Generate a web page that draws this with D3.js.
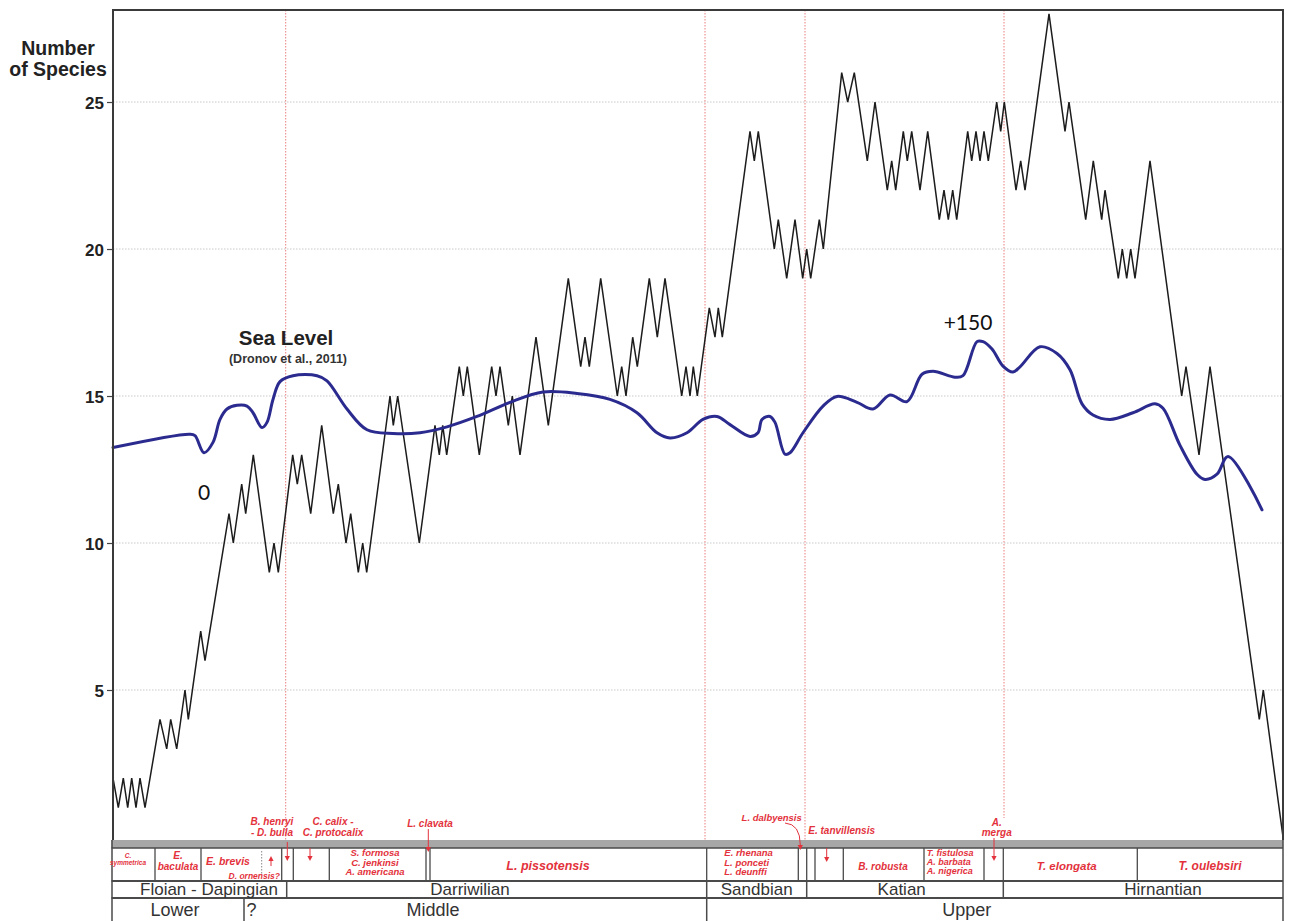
<!DOCTYPE html>
<html>
<head>
<meta charset="utf-8">
<script src="https://cdn.jsdelivr.net/npm/d3@7"></script>
<style>
  body { margin: 0; background: #fff; }
  svg { display: block; }
</style>
</head>
<body>
<svg id="chart" width="1290" height="921"></svg>
<script>
// ---- Species richness through the Ordovician (position along section, arbitrary units) ----
const speciesPos = [0,5.3,10.3,14.7,18.7,23,27,32,47,53.7,
  57.7,63.7,72,75.3,87.7,92,116,120.3,128.7,132.7,
  140.3,156.3,161,165.3,179.7,184.3,188.7,197.7,208.7,220.3,
  225.3,233,237.7,245.3,249.7,253.7,277,280.3,284.7,306.3,
  322,326.3,329.7,333.7,346.3,350.3,354.3,366.3,378.7,383,
  387,395.3,399.3,407,423,435.3,455.3,467.7,472,476.3,
  487.7,504.3,508.7,513,519.7,524.3,536.3,544.3,552,568.7,
  573,577,580.3,584.3,596.3,602,605.3,609.3,637,641.3,
  645.3,661.3,665.3,673.7,682,689.7,693.7,697.7,706.3,710.3,
  728.7,734.7,741.3,754.3,762,774.3,778.7,782.7,790.3,794.3,
  798.7,807,814.7,826.3,831,835.3,839.7,843.7,854.7,858.7,
  863,867,871,875.3,883.7,887.7,891.3,903,907.7,912,
  936,952,956,972.7,980.3,988.7,992,1005.3,1009.3,1013.7,
  1017.7,1022,1037,1068.7,1073,1086,1097,1146.3,1150.3,1170];
const speciesCount = [2,1,2,1,2,1,2,1,4,3,
  4,3,5,4,7,6,11,10,12,11,
  13,9,10,9,13,12,13,11,14,11,
  12,10,11,9,10,9,15,14,15,10,
  14,13,14,13,16,15,16,13,16,15,
  16,14,15,13,17,14,19,16,17,16,
  19,15,16,15,17,16,19,17,19,15,
  16,15,16,15,18,17,18,17,24,23,
  24,20,21,19,21,19,20,19,21,20,
  26,25,26,23,25,22,23,22,24,23,
  24,22,24,21,22,21,22,21,24,23,
  24,23,24,23,25,24,25,22,23,22,
  28,24,25,21,23,21,22,19,20,19,
  20,19,23,15,16,13,16,4,5,0];

// ---- Sea level curve (Dronov et al., 2011), metres relative to the early low ----
const seaPos = [0,77,82,91,100,107,114,124,134,140,
  149,154,160,167,180,204,214,234,254,280,
  307,334,364,397,430,464,497,524,544,557,
  574,590,604,617,637,645,649,657,662,672,
  677,690,710,724,744,760,777,794,809,820,
  842,850,864,870,879,890,900,907,927,944,
  957,969,980,997,1020,1042,1050,1067,1084,1092,
  1104,1115,1149];
const seaLevel = [7,25,23,0,14,45,59,64,63,54,
  34,41,72,96,104,104,97,59,31,26,
  27,35,49,68,82,80,72,54,27,20,
  27,45,49,38,22,27,45,49,41,-2,
  0,27,63,76,68,59,78,69,106,110,
  102,104,150,150,140,117,109,116,143,134,
  112,66,51,45,54,66,60,10,-29,-36,
  -29,-5,-77];
const seaMarks = [0, 150];
const seaMarkLabels = ["0", "+150"];
const seaMarkPos = [91, 855];

const yTicks = [5, 10, 15, 20, 25];

// ---- Chronostratigraphy ----
const seriesNames = ["Lower", "Middle", "Upper"];
const seriesLabelAt = [62, 320, 853.7];
const seriesBounds = [131, 593.7];
const stageNames = ["Floian - Dapingian", "Darriwilian", "Sandbian", "Katian", "Hirnantian"];
const stageLabelAt = [96, 357, 643.7, 788.7, 1050];
const stageBounds = [173.7, 593.7, 693.7, 890.3];
const eventLines = [172.7, 592, 692, 891];

// ---- Chitinozoan biozones ----
const zoneBounds = [42, 88, 168.7, 180.3, 216.3, 313, 317, 593.7, 685.3, 693.7, 702, 730.3, 811, 871, 890.3, 1024.3];
const zoneNames = ["C.\nsymmetrica", "E.\nbaculata", "E. brevis", "D. ornensis?",
  "S. formosa\nC. jenkinsi\nA. americana", "L. pissotensis",
  "E. rhenana\nL. ponceti\nL. deunffi", "B. robusta",
  "T. fistulosa\nA. barbata\nA. nigerica", "T. elongata", "T. oulebsiri"];
const zoneLabelAt = [15, 65, 115, 167, 262, 435, 611.3, 770, 813.7, 953.7, 1097];
const markerNames = ["B. henryi\n- D. bulla", "C. calix -\nC. protocalix", "L. clavata",
  "L. dalbyensis", "E. tanvillensis", "A.\nmerga"];
const markerLabelAt = [159, 220, 317, 658.7, 695.3, 883.7];

// ---------------------------------------------------------------
const W = 1290, H = 921;
const pLeft = 113, pRight = 1283, pTop = 10;
const bandTop = 840, bandBottom = 848, zoneBottom = 881, stageBottom = 898;
const RED = "#e3323c";
const FONT = "'Liberation Sans', Arial, Helvetica, sans-serif";

const svg = d3.select("#chart");
const x = d3.scaleLinear().domain([0, 1170]).range([pLeft, pRight]);
const y = d3.scaleLinear().domain([0, 28.13]).range([837, pTop]);
const ySea = d3.scaleLinear().domain([0, 150]).range([y(13.07), y(16.85)]);

svg.append("rect").attr("width", W).attr("height", H).attr("fill", "#fff");

// horizontal grid
svg.append("g")
  .selectAll("line").data(yTicks).join("line")
  .attr("x1", pLeft).attr("x2", pRight)
  .attr("y1", d => y(d)).attr("y2", d => y(d))
  .attr("stroke", "#c9c9c9").attr("stroke-width", 1)
  .attr("stroke-dasharray", "1.5,1.5");

// stage-boundary event lines
svg.append("g")
  .selectAll("line").data(eventLines).join("line")
  .attr("x1", d => x(d)).attr("x2", d => x(d))
  .attr("y1", pTop).attr("y2", (d, i) => i === 3 ? 818 : (i === 0 ? 846 : bandTop))
  .attr("stroke", "#ec7f7f").attr("stroke-width", 1)
  .attr("stroke-dasharray", "1.5,1.5");

// y axis
const yAxis = d3.axisLeft(y).tickValues(yTicks).tickSize(6).tickPadding(3);
const gy = svg.append("g").attr("transform", `translate(${pLeft},0)`).call(yAxis);
gy.select(".domain").remove();
gy.selectAll(".tick line").attr("stroke", "#444").attr("stroke-width", 1.2);
gy.selectAll(".tick text")
  .attr("font-family", FONT).attr("font-weight", "bold").attr("font-size", 17)
  .attr("fill", "#222").attr("dy", "0.36em");

// axis title
const title = svg.append("text").attr("font-family", FONT).attr("font-weight", "bold")
  .attr("font-size", 19.5).attr("fill", "#222").attr("text-anchor", "middle");
title.append("tspan").attr("x", 58).attr("y", 55).text("Number");
title.append("tspan").attr("x", 58).attr("y", 76).text("of Species");

// species line
const species = speciesPos.map((p, i) => ({ p, v: speciesCount[i] }));
svg.append("path")
  .datum(species)
  .attr("fill", "none").attr("stroke", "#1c1c1c").attr("stroke-width", 1.5)
  .attr("stroke-linejoin", "miter")
  .attr("d", d3.line().x(d => x(d.p)).y(d => y(d.v)));

// sea level curve
const sea = seaPos.map((p, i) => ({ p, v: seaLevel[i] }));
svg.append("path")
  .datum(sea)
  .attr("fill", "none").attr("stroke", "#2b2b8f").attr("stroke-width", 3)
  .attr("stroke-linejoin", "round").attr("stroke-linecap", "round")
  .attr("d", d3.line().curve(d3.curveCatmullRom.alpha(0.5)).x(d => x(d.p)).y(d => ySea(d.v)));

// sea level annotations
svg.append("text").attr("x", 286).attr("y", 345).attr("text-anchor", "middle")
  .attr("font-family", FONT).attr("font-weight", "bold").attr("font-size", 20.5).attr("fill", "#222")
  .text("Sea Level");
svg.append("text").attr("x", 288).attr("y", 363).attr("text-anchor", "middle")
  .attr("font-family", FONT).attr("font-weight", "bold").attr("font-size", 12.5).attr("fill", "#333")
  .text("(Dronov et al., 2011)");
svg.append("g").selectAll("text").data(seaMarks).join("text")
  .attr("x", (d, i) => x(seaMarkPos[i]))
  .attr("y", (d, i) => i === 0 ? ySea(d) + 47 : ySea(d) - 12)
  .attr("text-anchor", "middle")
  .attr("font-family", "Lato, 'Open Sans', sans-serif").attr("font-size", 21).attr("fill", "#111")
  .text((d, i) => seaMarkLabels[i]);

// plot frame
svg.append("path")
  .attr("d", `M${pLeft},${bandTop}V${pTop}H${pRight}V${bandTop}`)
  .attr("fill", "none").attr("stroke", "#3a3a3a").attr("stroke-width", 2);

// ---- stratigraphic table ----
const tbl = svg.append("g");
tbl.append("rect").attr("x", pLeft - 1.5).attr("y", bandTop).attr("width", pRight - pLeft + 1.5)
  .attr("height", bandBottom - bandTop).attr("fill", "#a7a7a7");
const tline = (x1, y1, x2, y2, w = 1.5) => tbl.append("line")
  .attr("x1", x1).attr("y1", y1).attr("x2", x2).attr("y2", y2)
  .attr("stroke", "#4a4a4a").attr("stroke-width", w);
tline(pLeft - 1.5, bandBottom, pRight, bandBottom);
tline(pLeft - 1.5, zoneBottom, pRight, zoneBottom, 2);
tline(pLeft - 1.5, stageBottom, pRight, stageBottom, 2);
tline(pLeft - 1, bandTop, pLeft - 1, H);
tline(pRight, bandTop, pRight, H);
zoneBounds.forEach(b => tline(x(b), bandBottom, x(b), zoneBottom, 1.3));
stageBounds.forEach(b => tline(x(b), zoneBottom, x(b), stageBottom, 1.5));
seriesBounds.forEach(b => tline(x(b), stageBottom, x(b), H, 1.5));

tbl.append("g").selectAll("text").data(stageNames).join("text")
  .attr("x", (d, i) => x(stageLabelAt[i])).attr("y", 895).attr("text-anchor", "middle")
  .attr("font-family", FONT).attr("font-size", 17).attr("fill", "#333").text(d => d);
tbl.append("g").selectAll("text").data(seriesNames).join("text")
  .attr("x", (d, i) => x(seriesLabelAt[i])).attr("y", 916).attr("text-anchor", "middle")
  .attr("font-family", FONT).attr("font-size", 18).attr("fill", "#333").text(d => d);
tbl.append("text").attr("x", x(seriesBounds[0]) + 2.5).attr("y", 916)
  .attr("font-family", FONT).attr("font-size", 18).attr("fill", "#333").text("?");

// zone label layout: [font size, first baseline, line step, anchor]
const zoneStyle = [
  [6.5, 858, 7, "middle"], [10, 859, 11, "middle"], [10.5, 865, 0, "middle"], [8.5, 879, 0, "end"],
  [9.5, 856, 9.5, "middle"], [12.5, 870, 0, "middle"], [9.5, 856, 9.5, "start"], [10, 870, 0, "middle"],
  [9, 856, 9, "start"], [11.5, 870, 0, "middle"], [12, 870, 0, "middle"]
];
const markerStyle = [
  [10, 825, 10.5, "middle"], [10, 825, 10.5, "middle"], [10, 827, 0, "middle"],
  [9.5, 821, 0, "middle"], [10, 834, 0, "start"], [10, 825.5, 10, "middle"]
];
function redLabels(names, at, styles) {
  names.forEach((name, i) => {
    const [fs, y0, step, anchor] = styles[i];
    const t = tbl.append("text").attr("font-family", FONT).attr("font-weight", "bold")
      .attr("font-style", "italic").attr("font-size", fs).attr("fill", RED)
      .attr("text-anchor", anchor);
    name.split("\n").forEach((ln, j) => {
      t.append("tspan").attr("x", x(at[i])).attr("y", y0 + j * step).text(ln);
    });
  });
}
redLabels(zoneNames, zoneLabelAt, zoneStyle);
redLabels(markerNames, markerLabelAt, markerStyle);

// small arrows marking first appearances
function arrow(px, y1, y2) {
  const dir = y2 > y1 ? 1 : -1;
  tbl.append("line").attr("x1", px).attr("x2", px).attr("y1", y1).attr("y2", y2 - dir * 3)
    .attr("stroke", RED).attr("stroke-width", 1);
  tbl.append("path")
    .attr("d", `M${px - 2.6},${y2 - dir * 5}L${px + 2.6},${y2 - dir * 5}L${px},${y2}Z`)
    .attr("fill", RED);
}
arrow(x(158), 866, 856);
arrow(x(174.3), 842, 861);
arrow(x(197), 848, 861);
arrow(x(315.3), 829, 852);
arrow(x(713.7), 848, 862);
arrow(x(881), 838, 861);

// curved leader for L. dalbyensis
const dx = x(685.3) + 2;
tbl.append("path")
  .attr("d", `M${x(672)},${823} Q${dx},${824} ${dx},${845}`)
  .attr("fill", "none").attr("stroke", RED).attr("stroke-width", 1);
tbl.append("path")
  .attr("d", `M${dx - 2.6},${845}L${dx + 2.6},${845}L${dx},${850}Z`).attr("fill", RED);

// uncertain boundary inside E. brevis zone
tbl.append("line").attr("x1", x(148.7)).attr("x2", x(148.7)).attr("y1", 851).attr("y2", 874)
  .attr("stroke", "#888").attr("stroke-width", 1).attr("stroke-dasharray", "1.5,1.5");
</script>
</body>
</html>
